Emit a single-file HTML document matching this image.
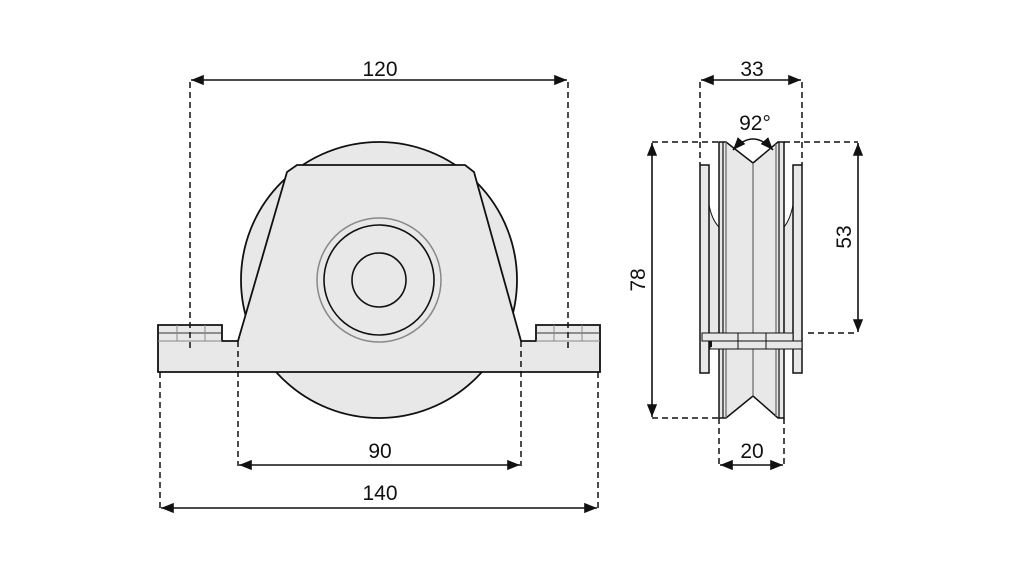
<!DOCTYPE html>
<html><head><meta charset="utf-8"><style>
html,body{margin:0;padding:0;background:#fff;}
svg{display:block;}
text{font-family:"Liberation Sans",sans-serif;font-size:21px;fill:#111;text-anchor:middle;}
</style></head><body>
<svg width="1021" height="567" viewBox="0 0 1021 567" xmlns="http://www.w3.org/2000/svg">
<defs>
<marker id="a" viewBox="0 0 10 10" refX="10" refY="5" markerWidth="8" markerHeight="8" orient="auto-start-reverse">
<path d="M0,1 L10,5 L0,9 z" fill="#111"/></marker>
</defs>
<g stroke="#111" stroke-width="1.8" fill="#e8e8e8">
<circle cx="379" cy="280" r="138"/>
<path d="M158,325 L222,325 L222,341 L238,341 L287,172 L297,165 L465,165 L474,172 L521,341 L536,341 L536,325 L600,325 L600,372 L158,372 Z"/>
</g>
<g stroke="#888" stroke-width="1" fill="none">
<line x1="158" y1="333" x2="222" y2="333" stroke="#333"/><line x1="536" y1="333" x2="600" y2="333" stroke="#333"/>
<line x1="158" y1="341" x2="222" y2="341"/><line x1="536" y1="341" x2="600" y2="341"/>
<line x1="177" y1="325" x2="177" y2="341"/><line x1="205" y1="325" x2="205" y2="341"/>
<line x1="554" y1="325" x2="554" y2="341"/><line x1="582" y1="325" x2="582" y2="341"/>
<circle cx="379" cy="280" r="62" stroke-width="1.5"/>
</g>
<g stroke="#111" stroke-width="1.6" fill="none">
<circle cx="379" cy="280" r="55"/>
<circle cx="379" cy="280" r="27"/>
</g>
<g stroke="#111" stroke-width="1.5" stroke-dasharray="6,4" fill="none">
<line x1="190" y1="82" x2="190" y2="348"/>
<line x1="568" y1="82" x2="568" y2="348"/>
<line x1="238" y1="341" x2="238" y2="466"/>
<line x1="521" y1="341" x2="521" y2="466"/>
<line x1="160" y1="372" x2="160" y2="508"/>
<line x1="598" y1="372" x2="598" y2="508"/>
</g>
<g stroke="#111" stroke-width="1.6" fill="none" marker-start="url(#a)" marker-end="url(#a)">
<line x1="191" y1="80" x2="567" y2="80"/>
<line x1="239" y1="465" x2="520" y2="465"/>
<line x1="161" y1="508" x2="597" y2="508"/>
</g>
<text x="380" y="76">120</text>
<text x="380" y="458">90</text>
<text x="380" y="500">140</text>

<g stroke="#111" stroke-width="1.5" fill="#e8e8e8">
<path d="M709,205 Q712,220 719,227 L719,333 L709,333 Z" stroke-width="1"/>
<path d="M793,205 Q790,220 784,227 L784,333 L793,333 Z" stroke-width="1"/>
<rect x="700" y="165" width="9" height="208"/>
<rect x="793" y="165" width="9" height="208"/>
<path d="M719,142 L726,142 L753,163 L778,142 L784,142 L784,418 L778,418 L753,396 L726,418 L719,418 Z"/>
</g>
<g stroke="#111" stroke-width="1.2" fill="none">
<line x1="723" y1="142" x2="723" y2="418"/>
<line x1="726" y1="142" x2="726" y2="418" stroke="#666"/>
<line x1="779" y1="142" x2="779" y2="418"/>
<line x1="776" y1="144" x2="776" y2="416" stroke="#666"/>
<line x1="753" y1="163" x2="753" y2="396" stroke="#666"/>
</g>
<g stroke="#111" stroke-width="1" fill="#e8e8e8">
<rect x="702" y="333" width="91" height="8"/>
<rect x="710" y="341" width="92" height="8"/>
<line x1="738" y1="333" x2="738" y2="349"/>
<line x1="766" y1="333" x2="766" y2="349"/>
</g>
<rect x="709" y="341" width="3" height="6" fill="#111"/>
<g stroke="#111" stroke-width="1.5" stroke-dasharray="6,4" fill="none">
<line x1="700" y1="82" x2="700" y2="165"/>
<line x1="802" y1="82" x2="802" y2="165"/>
<line x1="652" y1="142" x2="719" y2="142"/>
<line x1="652" y1="418" x2="719" y2="418"/>
<line x1="784" y1="142" x2="858" y2="142"/>
<line x1="808" y1="333" x2="858" y2="333"/>
<line x1="719" y1="418" x2="719" y2="466"/>
<line x1="784" y1="418" x2="784" y2="466"/>
</g>
<g stroke="#111" stroke-width="1.6" fill="none" marker-start="url(#a)" marker-end="url(#a)">
<line x1="701" y1="80" x2="801" y2="80"/>
<line x1="652" y1="143" x2="652" y2="417"/>
<line x1="858" y1="143" x2="858" y2="332"/>
<line x1="720" y1="465" x2="783" y2="465"/>
<path d="M733,150 Q753,128 773,150"/>
</g>
<text x="752" y="76">33</text>
<text x="755" y="130">92°</text>
<text x="752" y="458">20</text>
<text transform="translate(645,280) rotate(-90)">78</text>
<text transform="translate(851,237) rotate(-90)">53</text>
</svg>
</body></html>
